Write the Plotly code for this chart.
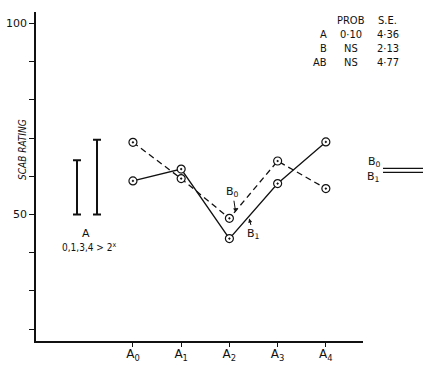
import plotly.graph_objects as go

# ---- data ----
categories = ["A<sub>0</sub>", "A<sub>1</sub>", "A<sub>2</sub>", "A<sub>3</sub>", "A<sub>4</sub>"]
cat_pos = [0, 1, 2, 3, 4]
b0_values = [68.9, 59.4, 49.0, 64.0, 56.8]   # dashed
b1_values = [58.8, 61.9, 43.7, 58.1, 69.0]   # solid
err_pos = [-1.16, -0.745]
err_low = [50.0, 50.0]
err_high = [64.2, 69.6]
ytick_vals = [20, 30, 40, 50, 60, 70, 80, 90, 100]
ytick_text = ["", "", "", "50", "", "", "", "", "100"]
table_rows = [("", "PROB", "S.E."), ("A", "0·10", "4·36"), ("B", "NS", "2·13"), ("AB", "NS", "4·77")]

FONT = "DejaVu Sans"
COND = "DejaVu Sans Condensed, Liberation Sans Narrow, DejaVu Sans"
BLACK = "#111111"

fig = go.Figure()

fig.add_trace(go.Scatter(
    x=cat_pos, y=b0_values, mode="lines+markers",
    line=dict(color=BLACK, width=1.3, dash="6px,4px"),
    marker=dict(symbol="circle-dot", size=8, color="white", line=dict(color=BLACK, width=1.2)),
    showlegend=False))
fig.add_trace(go.Scatter(
    x=cat_pos, y=b1_values, mode="lines+markers",
    line=dict(color=BLACK, width=1.3),
    marker=dict(symbol="circle-dot", size=8, color="white", line=dict(color=BLACK, width=1.2)),
    showlegend=False))

# error bars (LSD bars)
mids = [(lo + hi) / 2 for lo, hi in zip(err_low, err_high)]
halves = [(hi - lo) / 2 for lo, hi in zip(err_low, err_high)]
fig.add_trace(go.Scatter(
    x=err_pos, y=mids, mode="markers",
    marker=dict(size=0.1, color="rgba(0,0,0,0)"),
    error_y=dict(type="data", array=halves, symmetric=True, color=BLACK, thickness=2, width=4),
    showlegend=False))

ann = []
# annotation under error bars
ann.append(dict(x=-0.98, y=45.1, text="A", showarrow=False, font=dict(family=FONT, size=11, color=BLACK)))
ann.append(dict(x=-0.91, y=41.4, text="0,1,3,4 &gt; 2<sup>x</sup>", showarrow=False,
                font=dict(family=COND, size=10, color=BLACK)))
# arrows
ann.append(dict(x=2.13, y=50.6, text="B<sub>0</sub>", showarrow=True, ax=-3, ay=-20,
                arrowhead=2, arrowsize=0.8, arrowwidth=1, arrowcolor=BLACK,
                font=dict(family=FONT, size=11, color=BLACK)))
ann.append(dict(x=2.41, y=48.95, text="B<sub>1</sub>", showarrow=True, ax=4, ay=15,
                arrowhead=2, arrowsize=0.8, arrowwidth=1, arrowcolor=BLACK,
                font=dict(family=FONT, size=11, color=BLACK)))

plot_l, plot_w, plot_t, plot_h = 36, 327, 12, 329
def px(xp):
    return (xp - plot_l) / plot_w
def py(yp):
    return 1 - (yp - plot_t) / plot_h

# y-axis title
ann.append(dict(xref="paper", yref="paper", x=px(22), y=py(150), text="<i>SCAB RATING</i>", showarrow=False,
                xanchor="center", yanchor="middle",
                textangle=-90, font=dict(family=COND, size=10, color=BLACK)))
# table top-right
row_y = [20.5, 34.5, 48.5, 62.5]
col_x = [329, 351, 388]
col_anchor = ["right", "center", "center"]
for r, row in enumerate(table_rows):
    for c, txt in enumerate(row):
        if txt:
            ann.append(dict(xref="paper", yref="paper", x=px(col_x[c]), y=py(row_y[r]), text=txt,
                            showarrow=False, xanchor=col_anchor[c], yanchor="middle",
                            font=dict(family=COND, size=11, color=BLACK)))
# right-side B0 / B1 labels
ann.append(dict(xref="paper", yref="paper", x=px(374), y=py(162), text="B<sub>0</sub>", showarrow=False,
                xanchor="center", yanchor="middle",
                font=dict(family=FONT, size=11, color=BLACK)))
ann.append(dict(xref="paper", yref="paper", x=px(373), y=py(177), text="B<sub>1</sub>", showarrow=False,
                xanchor="center", yanchor="middle",
                font=dict(family=FONT, size=11, color=BLACK)))

shapes = [
    dict(type="line", xref="paper", yref="paper", x0=px(383), x1=px(423), y0=py(168.3), y1=py(168.3),
         line=dict(color=BLACK, width=1.2)),
    dict(type="line", xref="paper", yref="paper", x0=px(383), x1=px(423), y0=py(172.3), y1=py(172.3),
         line=dict(color=BLACK, width=1.2)),
]

fig.update_layout(
    width=423, height=365,
    margin=dict(l=plot_l, r=423 - plot_l - plot_w, t=plot_t, b=365 - plot_t - plot_h, autoexpand=False),
    plot_bgcolor="white", paper_bgcolor="white",
    annotations=ann, shapes=shapes,
    xaxis=dict(range=[-2.01, 4.77], tickvals=cat_pos, ticktext=categories, automargin=False,
               showline=True, linecolor=BLACK, linewidth=1.5, ticks="outside", ticklen=4,
               tickcolor=BLACK, showgrid=False, zeroline=False, ticklabelstandoff=-3,
               tickfont=dict(family=FONT, size=12, color=BLACK)),
    yaxis=dict(range=[16.9, 103], tickvals=ytick_vals, ticktext=ytick_text, automargin=False,
               showline=True, linecolor=BLACK, linewidth=1.5, ticks="outside", ticklen=5,
               tickcolor=BLACK, showgrid=False, zeroline=False,
               tickfont=dict(family=FONT, size=11, color=BLACK)),
)

fig.write_html("out.html")
